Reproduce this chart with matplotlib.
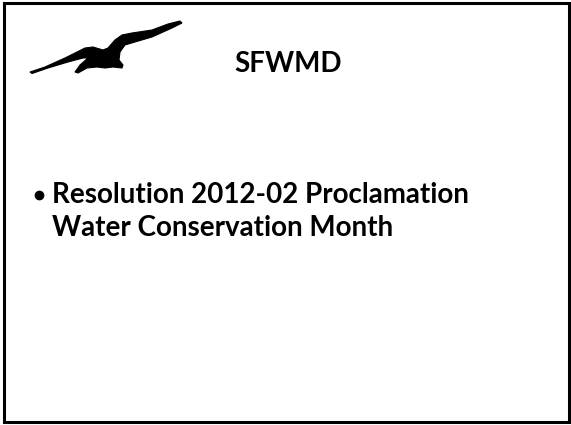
import matplotlib
matplotlib.use("Agg")
import matplotlib.pyplot as plt
from matplotlib.patches import Polygon, Rectangle

W, H = 571, 425

title = "SFWMD"
bullet_lines = ["Resolution 2012-02 Proclamation", "Water Conservation Month"]

# bird silhouette outline, in pixel coords (x, y from top)
bird_x = [30, 45, 65, 85, 93, 103, 108, 115, 122, 132, 152, 168, 180,
          182, 172, 152, 135, 125, 120, 119, 123, 122, 113, 105, 97, 87, 78, 75, 80, 88,
          83, 68, 48, 32]
bird_y = [72, 67, 58, 48, 47, 50, 48, 40, 35, 33, 30, 24, 21,
          23, 28, 37, 42, 45, 52, 60, 65, 68, 67, 68, 67, 68, 73, 72, 65, 58,
          58, 62, 68, 73.5]

fig = plt.figure(figsize=(W / 100, H / 100), dpi=100)
ax = fig.add_axes([0, 0, 1, 1])
ax.set_xlim(0, W)
ax.set_ylim(H, 0)
ax.axis("off")

# slide border
ax.add_patch(Rectangle((4, 3), 565, 419, fill=False, edgecolor="black", linewidth=2.2))

ax.add_patch(Polygon(list(zip(bird_x, bird_y)), closed=True, facecolor="black",
                     edgecolor="black", linewidth=0.8))

ax.text(288, 72, title, fontsize=20, family="Lato", weight="bold", ha="center", va="baseline")

ax.plot([39], [195], marker="o", markersize=6, color="black")
for i, line in enumerate(bullet_lines):
    ax.text(52, 203 + i * 33, line, fontsize=20, family="Lato", weight="bold",
            va="baseline", ha="left")

fig.savefig("out.png", dpi=100)
